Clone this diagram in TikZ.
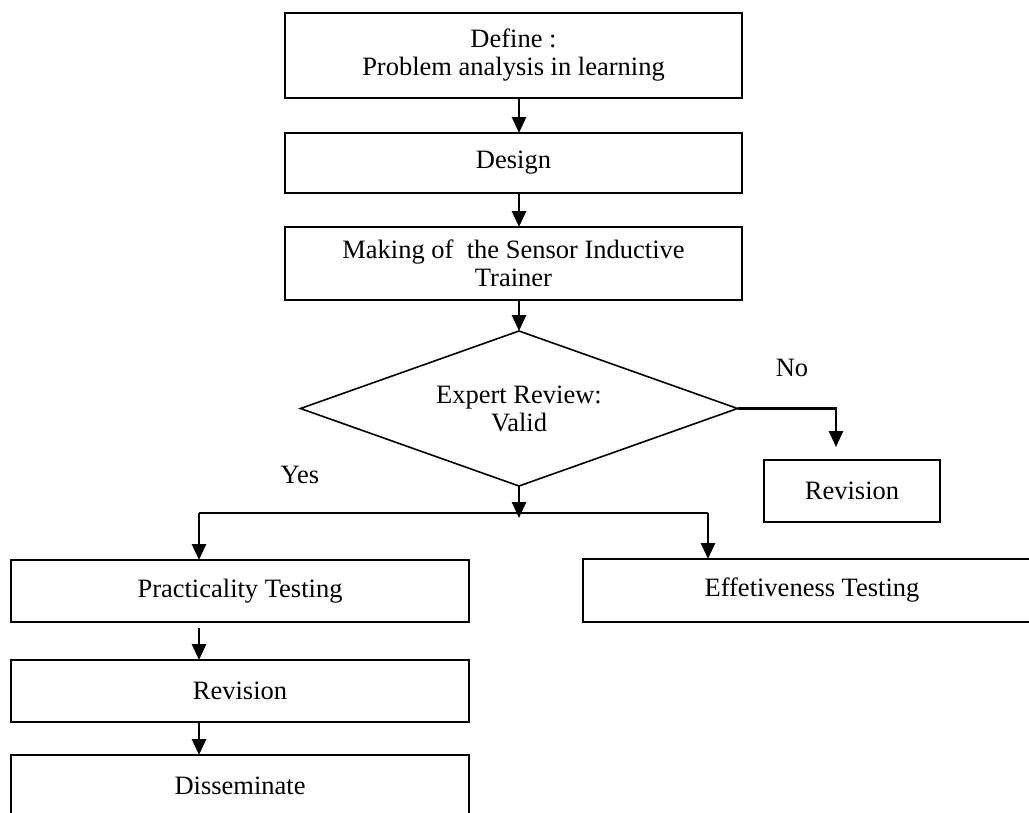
\documentclass[tikz,border=0pt]{standalone}
\usepackage{fontspec}
\setmainfont{Liberation Serif}
\usetikzlibrary{arrows.meta,shapes.geometric}
\begin{document}
\begin{tikzpicture}[x=1pt,y=1pt,
  txt/.style={font=\fontsize{26.5}{28}\selectfont, align=center},
  box/.style={txt, draw, line width=2pt, rectangle, inner sep=0pt, outer sep=0pt},
  dec/.style={txt, draw, line width=1.6pt, diamond, shape aspect=2.82, inner sep=0pt, outer sep=0pt, minimum width=437pt, minimum height=155pt},
  arr/.style={line width=2.6pt, -{Triangle[width=14pt,length=16pt]}},
  ln/.style={line width=2.6pt}
]
\clip (0,0) rectangle (1029,-812);
% top column
\node[box, minimum width=457pt, minimum height=85pt] (def) at (513.5,-55.5) {Define :\\Problem analysis in learning};
\node[box, minimum width=457pt, minimum height=60pt] (des) at (513.5,-163) {Design};
\node[box, minimum width=457pt, minimum height=73pt] (mak) at (513.5,-263.5) {Making of\ \ the Sensor Inductive\\Trainer};
\node[dec] (dia) at (519,-408.5) {Expert Review:\\Valid};
% right branch
\node[box, minimum width=176pt, minimum height=62pt] (rv1) at (852,-491) {Revision};
\node[box, minimum width=458pt, minimum height=63pt] (eff) at (812,-590.5) {Effetiveness Testing};
% left column
\node[box, minimum width=458pt, minimum height=62pt] (pra) at (240,-591) {Practicality Testing};
\node[box, minimum width=458pt, minimum height=62pt] (rv2) at (240,-691) {Revision};
\node[box, minimum width=458pt, minimum height=62pt] (dis) at (240,-786) {Disseminate};
% labels
\node[txt] (yes) at (300,-475) {Yes};
\node[txt] (no) at (792,-368) {No};
% junction coordinates
\coordinate (jm) at (519,-518);
\coordinate (jl) at (199,-513);
\coordinate (jr) at (708,-513);
% connectors
\draw[arr] (dia.north |- def.south) -- (dia.north |- des.north);
\draw[arr] (dia.north |- des.south) -- (dia.north |- mak.north);
\draw[arr] (dia.north |- mak.south) -- (dia.north);
\draw[arr] (dia.south) -- (jm);
\draw[ln] (jl) -- (jr);
\draw[arr] (jl) -- (jl |- pra.north);
\draw[arr] (jr) -- (jr |- eff.north);
\draw[arr, shorten >=13pt] (dia.east) -| ([xshift=-16pt]rv1.north);
\draw[arr, shorten <=6pt] (jl |- pra.south) -- (jl |- rv2.north);
\draw[arr] (jl |- rv2.south) -- (jl |- dis.north);
\end{tikzpicture}
\end{document}
